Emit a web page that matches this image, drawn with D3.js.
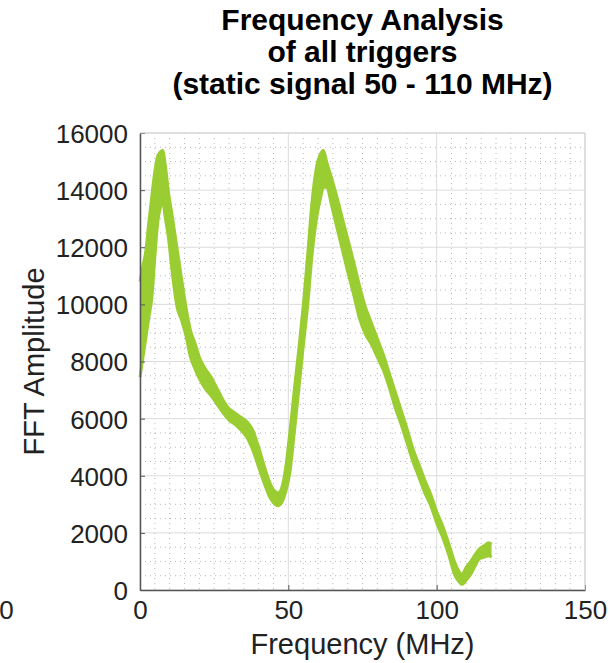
<!DOCTYPE html>
<html>
<head>
<meta charset="utf-8">
<script src="https://cdn.jsdelivr.net/npm/d3@7"></script>
<style>
  body { margin: 0; background: #fff; }
  text { font-family: "Liberation Sans", Arial, Helvetica, sans-serif; }
</style>
</head>
<body>
<svg id="chart" width="610" height="663"></svg>
<script>
// frequency bins (MHz)
var freq = [0, 1, 2, 3, 4, 5, 6, 7, 7.6, 8.5, 9.5, 11, 12.5, 14, 15.5, 17, 18.5, 20, 22, 24,
    26, 28, 30, 32, 34, 36, 38, 40, 42, 44, 45.5, 46.6, 47.7, 49, 50.5, 52, 53.5, 55, 56.5, 58,
    59.5, 61, 61.8, 63, 64.5, 66, 68, 70, 72, 74, 76, 78, 80, 82, 84, 86, 88, 90, 92, 94,
    96, 98, 100, 102, 104, 106, 107.5, 108.5, 110, 111.5, 113, 114.5, 116, 117.5, 118.5];

// highest trigger trace at each bin
var ampHigh = [10800, 11350, 11900, 12900, 13800, 14650, 15200, 15350, 15400, 14900, 14000, 13000, 11950, 10900, 9900, 9100, 8650, 8150, 7750, 7450,
    7050, 6650, 6350, 6200, 6050, 5900, 5600, 5000, 4300, 3700, 3450, 3400, 3550, 4200, 5500, 7000, 8400, 9920, 11700, 13600,
    14800, 15300, 15400, 14950, 14450, 13900, 13100, 12300, 11500, 10650, 9900, 9350, 8800, 8250, 7600, 6950, 6300, 5650, 4950, 4400,
    3850, 3350, 2750, 2250, 1650, 1000, 650, 550, 800, 1000, 1250, 1450, 1550, 1650, 1600];

// lowest trigger trace at each bin
var ampLow = [7450, 8150, 8850, 9550, 10250, 11650, 12900, 13450, 13650, 13050, 12400, 11000, 9900, 9450, 8900, 8160, 7750, 7400, 7050, 6800,
    6500, 6200, 5950, 5800, 5600, 5350, 4900, 4300, 3700, 3200, 3000, 2950, 3050, 3400, 4100, 5500, 7000, 8500, 9950, 11750,
    13000, 13800, 14100, 14100, 13500, 12850, 12000, 11150, 10350, 9500, 8950, 8600, 8150, 7700, 7100, 6400, 5800, 5150, 4500, 3950,
    3400, 2950, 2350, 1850, 1250, 550, 300, 200, 350, 550, 850, 1100, 1150, 1200, 1150];

var xTicks = [0, 50, 100, 150];
var yTicks = [0, 2000, 4000, 6000, 8000, 10000, 12000, 14000, 16000];
var titleLines = ['Frequency Analysis', 'of all triggers', '(static signal 50 - 110 MHz)'];

var svg = d3.select('#chart');
var plotLeft = 140, plotRight = 585, plotTop = 133, plotBottom = 590;
var lineColor = '#9acd32';

var x = d3.scaleLinear().domain([0, 150]).range([plotLeft, plotRight]);
var y = d3.scaleLinear().domain([0, 16000]).range([plotBottom, plotTop]);

// minor grid (dotted)
var minorX = d3.range(0, 151, 5).filter(function (v) { return v % 50 !== 0; });
var minorY = d3.range(0, 16001, 500).filter(function (v) { return v % 2000 !== 0; });
svg.append('g').selectAll('line').data(minorX).enter().append('line')
    .attr('x1', function (d) { return x(d); }).attr('x2', function (d) { return x(d); })
    .attr('y1', plotTop).attr('y2', plotBottom)
    .style('stroke', '#b8b8b8').style('stroke-width', 1).style('stroke-dasharray', '1,4');
svg.append('g').selectAll('line').data(minorY).enter().append('line')
    .attr('y1', function (d) { return y(d); }).attr('y2', function (d) { return y(d); })
    .attr('x1', plotLeft).attr('x2', plotRight)
    .style('stroke', '#b8b8b8').style('stroke-width', 1).style('stroke-dasharray', '1,4');

// major grid
svg.append('g').selectAll('line').data(xTicks).enter().append('line')
    .attr('x1', function (d) { return x(d); }).attr('x2', function (d) { return x(d); })
    .attr('y1', plotTop).attr('y2', plotBottom)
    .style('stroke', '#dcdcdc').style('stroke-width', 1);
svg.append('g').selectAll('line').data(yTicks).enter().append('line')
    .attr('y1', function (d) { return y(d); }).attr('y2', function (d) { return y(d); })
    .attr('x1', plotLeft).attr('x2', plotRight)
    .style('stroke', '#dcdcdc').style('stroke-width', 1);

// band of all traces
var band = freq.map(function (f, i) { return { f: f, hi: ampHigh[i], lo: ampLow[i] }; });
var area = d3.area()
    .curve(d3.curveMonotoneX)
    .x(function (d) { return x(d.f); })
    .y0(function (d) { return y(d.lo); })
    .y1(function (d) { return y(d.hi); });
svg.append('path').datum(band).attr('d', area)
    .style('fill', lineColor).style('stroke', 'none');

var hiLine = d3.line().curve(d3.curveMonotoneX)
    .x(function (d) { return x(d.f); }).y(function (d) { return y(d.hi); });
var loLine = d3.line().curve(d3.curveMonotoneX)
    .x(function (d) { return x(d.f); }).y(function (d) { return y(d.lo); });
svg.append('path').datum(band).attr('d', hiLine)
    .style('fill', 'none').style('stroke', lineColor).style('stroke-width', 3)
    .style('stroke-linejoin', 'round');
svg.append('path').datum(band).attr('d', loLine)
    .style('fill', 'none').style('stroke', lineColor).style('stroke-width', 3)
    .style('stroke-linejoin', 'round');

// axes
var xAxis = d3.axisBottom(x).tickValues(xTicks).tickFormat(d3.format('d'))
    .tickSizeInner(-5).tickSizeOuter(0).tickPadding(11);
var yAxis = d3.axisLeft(y).tickValues(yTicks).tickFormat(d3.format('d'))
    .tickSizeInner(-5).tickSizeOuter(0).tickPadding(12);

var gx = svg.append('g').attr('transform', 'translate(0,' + plotBottom + ')').call(xAxis);
var gy = svg.append('g').attr('transform', 'translate(' + plotLeft + ',0)').call(yAxis);
[gx, gy].forEach(function (g) {
    g.select('.domain').style('stroke', '#555').style('stroke-width', 1.5);
    g.selectAll('.tick line').style('stroke', '#555');
    g.selectAll('.tick text').style('font-size', '26px').style('fill', '#222')
        .style('font-family', '"Liberation Sans", Arial, sans-serif');
});
gy.selectAll('.tick text').attr('dy', '0.36em');

// stray tick label at left edge
svg.append('text')
    .attr('x', x(-45)).attr('y', plotBottom + 11)
    .attr('dy', '0.71em').attr('text-anchor', 'middle')
    .style('font-size', '26px').style('fill', '#222')
    .text('0');

// box top and right
svg.append('line').attr('x1', plotLeft).attr('x2', plotRight).attr('y1', plotTop).attr('y2', plotTop)
    .style('stroke', '#d0d0d0').style('stroke-width', 1);
svg.append('line').attr('x1', plotRight).attr('x2', plotRight).attr('y1', plotTop).attr('y2', plotBottom)
    .style('stroke', '#d0d0d0').style('stroke-width', 1);

// labels
svg.append('text')
    .attr('x', (plotLeft + plotRight) / 2).attr('y', 654)
    .attr('text-anchor', 'middle')
    .style('font-size', '29px').style('fill', '#222')
    .text('Frequency (MHz)');
svg.append('text')
    .attr('transform', 'translate(44,' + ((plotTop + plotBottom) / 2) + ') rotate(-90)')
    .attr('text-anchor', 'middle')
    .style('font-size', '29px').style('fill', '#222')
    .text('FFT Amplitude');

svg.append('g').selectAll('text').data(titleLines).enter().append('text')
    .attr('x', (plotLeft + plotRight) / 2)
    .attr('y', function (d, i) { return 30 + i * 32; })
    .attr('text-anchor', 'middle')
    .style('font-size', '30px').style('font-weight', 'bold').style('fill', '#000')
    .text(function (d) { return d; });
</script>
</body>
</html>
